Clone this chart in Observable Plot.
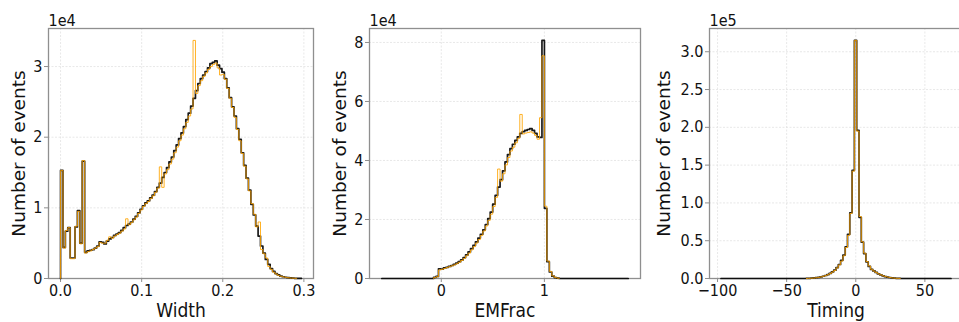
<!DOCTYPE html>
<html><head><meta charset="utf-8">
<script src="https://cdn.jsdelivr.net/npm/d3@7"></script>
<script src="https://cdn.jsdelivr.net/npm/@observablehq/plot@0.6"></script>
<style>
body{margin:0;background:#fff;}
#wrap{position:relative;width:959px;height:322px;overflow:hidden;background:#fff;}
#wrap svg{position:absolute;top:0;}
</style></head><body><div id="wrap"></div>
<script>
// ---------- Panel 1: Width ----------
const widthRange = [0, 0.297];
const widthBlack = [15300, 4400, 6700, 7200, 2900, 2900, 7300, 9600, 5000, 16600,
 3700, 3900, 4000, 4100, 4300, 4600, 5200, 5100, 4900, 5300,
 5600, 5800, 6100, 6300, 6500, 6800, 7200, 7500, 7700, 8000,
 8400, 8800, 9300, 9800, 10300, 10700, 11000, 11400, 11800, 12300,
 12900, 13500, 14300, 15000, 15700, 16500, 17200, 18100, 18900, 19800,
 20600, 21500, 22500, 23400, 24400, 25500, 26600, 27600, 28300, 28800,
 29300, 29800, 30400, 30600, 30800, 30200, 29700, 29200, 28300, 27000,
 25600, 24300, 23000, 21200, 19700, 17800, 16000, 14200, 12500, 10500,
 9000, 7400, 6000, 4600, 3600, 2700, 2000, 1400, 1000, 700,
 500, 350, 250, 180, 120, 80, 50, 30, 20, 10];
const widthOrange = [15300, 4300, 6800, 7200, 2800, 2800, 7400, 9500, 4900, 16700,
 3600, 3800, 3900, 4100, 4300, 4500, 5100, 5000, 5000, 5400,
 5900, 5700, 6000, 6200, 6400, 6700, 7000, 8450, 7600, 7900,
 8300, 8700, 9200, 9700, 10200, 10600, 10900, 11300, 11700, 12200,
 12800, 15800, 12900, 14800, 15400, 16200, 16900, 17800, 18600, 19500,
 20300, 21200, 22100, 23000, 24000, 33700, 26200, 27300, 28000, 28600,
 29100, 29600, 30000, 30300, 30500, 29800, 28800, 28900, 28200, 26900,
 25500, 24200, 22800, 21100, 19500, 17700, 15900, 14100, 12400, 10600,
 9100, 7300, 8000, 4100, 3500, 2900, 1700, 1300, 900, 650,
 450, 320, 230, 160, 110, 70, 45, 25, 0, 0];
const widthXTicks = [0, 0.1, 0.2, 0.3];
const widthYTicks = [0, 10000, 20000, 30000];

// ---------- Panel 2: EMFrac ----------
const emRange = [-0.577, 1.813];
const emBlack = [0,0,0,0,0,0,0,0,0,0, 0,0,0,0,0,0,0,0,0,0, 0,
 400, 700, 3300, 3200, 3600, 3800, 4100, 4400, 4800, 5200,
 5700, 6300, 7100, 8000, 9000, 10100, 11200, 12400, 13700, 15000,
 16500, 18300, 20300, 22500, 25200, 28200, 31000, 33500, 36500, 39500,
 42000, 44000, 45500, 46800, 48000, 49200, 49800, 50200, 50500, 50800,
 50200, 49200, 48000, 47800, 80700, 23800, 5700, 2200, 800, 300,
 100,
 0,0,0,0,0,0,0,0,0,0, 0,0,0,0,0,0,0,0,0,0, 0,0,0,0,0,0,0,0];
const emOrange = [0,0,0,0,0,0,0,0,0,0, 0,0,0,0,0,0,0,0,0,0, 0,
 300, 600, 2900, 3100, 3400, 3700, 4000, 4300, 4600, 5000,
 5500, 6100, 6800, 7700, 8600, 9700, 10800, 12000, 13200, 14600,
 16100, 17800, 19700, 21800, 24400, 27500, 37100, 33000, 35500, 38500,
 41000, 43200, 44500, 46000, 47500, 55600, 49000, 49300, 49500, 49700,
 49300, 48500, 47200, 54500, 75500, 24500, 5900, 2400, 900, 350,
 120,
 0,0,0,0,0,0,0,0,0,0, 0,0,0,0,0,0,0,0,0,0, 0,0,0,0,0,0,0,0];
const emXTicks = [0, 1];
const emYTicks = [0, 20000, 40000, 60000, 80000];

// ---------- Panel 3: Timing ----------
const timingRange = [-97.5, 68.9];
const timingBlack = [0,0,0,0,0,0,0,0,0,0, 0,0,0,0,0,0,0,0,0,0, 0,0,0,0,0,0,0,0,0,0, 0,0,0,0,0,0,0,
 100, 200, 400, 700, 1100, 1600, 2200, 3000, 4000, 5200,
 6800, 8800, 11000, 14500, 18500, 24000, 31000, 42000, 58500, 87000,
 143000, 315000, 196000, 81000, 48000, 33000, 22000, 16000, 12000, 10000,
 8000, 6000, 4800, 3500, 2600, 1800, 1300, 800, 400, 200,
 100,
 0,0,0,0,0,0,0,0,0,0, 0,0,0,0,0,0,0,0,0,0, 0,0];
const timingOrange = [0,0,0,0,0,0,0,0,0,0, 0,0,0,0,0,0,0,0,0,0, 0,0,0,0,0,0,0,0,0,0, 0,0,0,0,0,0,0,
 100, 200, 400, 650, 1000, 1500, 2100, 2900, 3800, 5000,
 6500, 8500, 10600, 14000, 18000, 23000, 30000, 41000, 57000, 86000,
 142000, 315000, 195000, 82000, 48500, 33500, 22500, 16500, 12200, 10000,
 8000, 6200, 4900, 3600, 2700, 1900, 1300, 800, 400, 200,
 100,
 0,0,0,0,0,0,0,0,0,0, 0,0,0,0,0,0,0,0,0,0, 0,0];
const timingXTicks = [-100, -50, 0, 50];
const timingYTicks = [0, 50000, 100000, 150000, 200000, 250000, 300000];

const yLabel = "Number of events";

// ---------- drawing ----------
const FONT_H = '"DejaVu Sans Condensed", "DejaVu Sans", sans-serif';
const INK = "#111", AXC = "#8f8f8f", GRID = "#e2e2e2";

// step outline of a histogram; with trim, empty bins at both ends are left out
function stepPoints([lo, hi], counts, trim = false) {
  const w = (hi - lo) / counts.length;
  let a = 0, b = counts.length - 1;
  if (trim) {
    while (a < b && counts[a] === 0) a++;
    while (b > a && counts[b] === 0) b--;
  }
  const pts = [{x: lo + a * w, y: 0}];
  for (let i = a; i <= b; i++) pts.push({x: lo + i * w, y: counts[i]});
  pts.push({x: lo + (b + 1) * w, y: 0});
  return pts;
}
const minus = d => (d < 0 ? "\u2212" + Math.abs(d) : String(d));

function panel(o) {
  const [lo, hi] = o.range;
  const pad = 0.05 * (hi - lo);
  const ymax = 1.05 * Math.max(d3.max(o.black), d3.max(o.orange));
  const svg = Plot.plot({
    width: o.width, height: 322,
    marginLeft: o.ml, marginRight: o.mr, marginTop: 28, marginBottom: 44,
    style: {background: "transparent", fontFamily: FONT_H, overflow: "visible"},
    x: {domain: [lo - pad, hi + pad]},
    y: {domain: [0, ymax]},
    marks: [
      Plot.gridX(o.xTicks, {stroke: GRID, strokeOpacity: 1, strokeWidth: 0.8, strokeDasharray: "2,1.5"}),
      Plot.gridY(o.yTicks, {stroke: GRID, strokeOpacity: 1, strokeWidth: 0.8, strokeDasharray: "2,1.5"}),
      Plot.frame({stroke: AXC, strokeWidth: 1.3}),
      Plot.axisX(o.xTicks, {tickSize: 4, tickPadding: 2, tickFormat: o.xFmt, fontSize: 16, stroke: AXC, color: INK, fill: INK, label: null}),
      Plot.axisY(o.yTicks, {tickSize: 4, tickPadding: 2, tickFormat: o.yFmt, fontSize: 16, stroke: AXC, color: INK, fill: INK, label: null}),
      Plot.line(stepPoints(o.range, o.black), {x: "x", y: "y", curve: "step-after", stroke: "#000", strokeWidth: 1.7, strokeOpacity: 0.9}),
      Plot.line(stepPoints(o.range, o.orange, true), {x: "x", y: "y", curve: "step-after", stroke: "orange", strokeWidth: 1, strokeOpacity: 0.85}),
      Plot.text([o.xlabel], {text: d => d, frameAnchor: "bottom", dy: 38.5, lineAnchor: "bottom", fontSize: 19, fill: INK}),
      Plot.text([yLabel], {text: d => d, frameAnchor: "left", textAnchor: "middle", lineAnchor: "middle", dx: o.ylDx, rotate: -90, fontSize: 18.5, fill: INK, fontFamily: '"DejaVu Sans", sans-serif'}),
      Plot.text([o.exp], {text: d => d, frameAnchor: "top-left", textAnchor: "start", lineAnchor: "bottom", dy: -3, fontSize: 16, fill: INK})
    ]
  });
  svg.style.left = o.left + "px";
  document.getElementById("wrap").appendChild(svg);
}

panel({left: 0, width: 320, ml: 48, mr: 7, range: widthRange, black: widthBlack, orange: widthOrange,
  xTicks: widthXTicks, xFmt: d => d.toFixed(1), yTicks: widthYTicks, yFmt: d => String(d / 1e4),
  exp: "1e4", xlabel: "Width", ylDx: -29.5});
panel({left: 320, width: 322, ml: 49, mr: 2, range: emRange, black: emBlack, orange: emOrange,
  xTicks: emXTicks, xFmt: d => String(d), yTicks: emYTicks, yFmt: d => String(d / 1e4),
  exp: "1e4", xlabel: "EMFrac", ylDx: -29});
panel({left: 640, width: 330, ml: 69, mr: 8, range: timingRange, black: timingBlack, orange: timingOrange,
  xTicks: timingXTicks, xFmt: minus, yTicks: timingYTicks, yFmt: d => (d / 1e5).toFixed(1),
  exp: "1e5", xlabel: "Timing", ylDx: -45});
</script></body></html>
